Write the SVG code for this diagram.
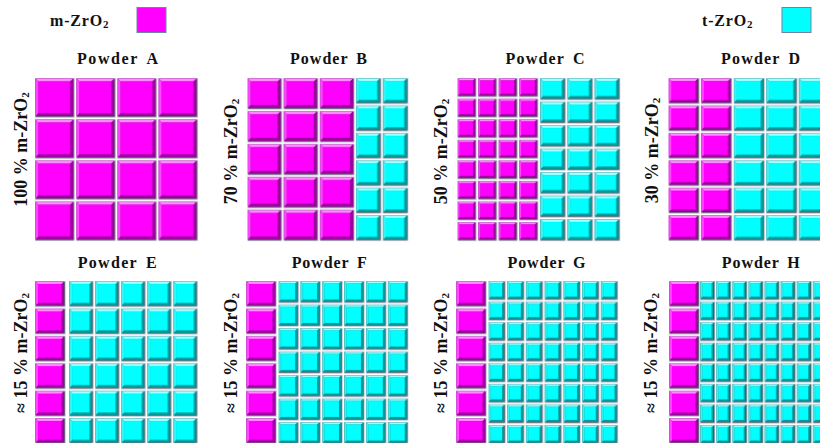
<svg xmlns="http://www.w3.org/2000/svg" width="820" height="443" viewBox="0 0 820 443">
<style>
.t{font-family:"Liberation Serif","Times New Roman",serif;font-weight:bold;fill:#111}
.title{font-size:16px;text-anchor:middle;word-spacing:3px}
.ax{font-size:18px;text-anchor:middle}
.leg{font-size:16px;letter-spacing:0.8px}
.mo{fill:#3a0a42;stroke:#a6abbd;stroke-width:1}
.md{fill:#a000a0}
.mt{fill:#ff8cff}
.ml{fill:#ff45ff}
.mm{fill:#ff00ff}
.co{fill:#12323f;stroke:#a6abbd;stroke-width:1}
.cd{fill:#009a9a}
.ct{fill:#a0ffff}
.cl{fill:#40f0f0}
.cm{fill:#00ffff}
.lm{fill:#ff00ff;stroke:#7080a8;stroke-width:1}
.lc{fill:#00ffff;stroke:#7080a8;stroke-width:1}
</style>
<defs>
<pattern id="pA" patternUnits="userSpaceOnUse" width="41.1" height="41.1"><g transform="translate(.5 .5)">
<rect class="mo" width="38.6" height="38.6"/><rect class="md" width="37.6" height="37.6"/>
<polygon class="mt" points="0,0 37.6,0 34.6,3 3,3"/><polygon class="ml" points="0,0 3,3 3,34.6 0,37.6"/>
<rect class="mm" x="3" y="3" width="31.6" height="31.6"/></g></pattern>
<pattern id="pBm" patternUnits="userSpaceOnUse" width="36.2" height="32.9"><g transform="translate(.5 .5)">
<rect class="mo" width="33.7" height="30.4"/><rect class="md" width="32.7" height="29.4"/>
<polygon class="mt" points="0,0 32.7,0 29.7,3 3,3"/><polygon class="ml" points="0,0 3,3 3,26.4 0,29.4"/>
<rect class="mm" x="3" y="3" width="26.7" height="23.4"/></g></pattern>
<pattern id="pBc" patternUnits="userSpaceOnUse" width="27" height="27.4"><g transform="translate(.5 .5)">
<rect class="co" width="24.5" height="24.9"/><rect class="cd" width="23.5" height="23.9"/>
<polygon class="ct" points="0,0 23.5,0 21,2.5 2.5,2.5"/><polygon class="cl" points="0,0 2.5,2.5 2.5,21.4 0,23.9"/>
<rect class="cm" x="2.5" y="2.5" width="18.5" height="18.9"/></g></pattern>
<pattern id="pCm" patternUnits="userSpaceOnUse" width="20.6" height="20.56"><g transform="translate(.5 .5)">
<rect class="mo" width="18.1" height="18.06"/><rect class="md" width="17.1" height="17.06"/>
<polygon class="mt" points="0,0 17.1,0 15.1,2 2,2"/><polygon class="ml" points="0,0 2,2 2,15.06 0,17.06"/>
<rect class="mm" x="2" y="2" width="13.1" height="13.06"/></g></pattern>
<pattern id="pCc" patternUnits="userSpaceOnUse" width="27.2" height="23.5"><g transform="translate(.5 .5)">
<rect class="co" width="24.7" height="21"/><rect class="cd" width="23.7" height="20"/>
<polygon class="ct" points="0,0 23.7,0 21.2,2.5 2.5,2.5"/><polygon class="cl" points="0,0 2.5,2.5 2.5,17.5 0,20"/>
<rect class="cm" x="2.5" y="2.5" width="18.7" height="15"/></g></pattern>
<pattern id="pDm" patternUnits="userSpaceOnUse" width="32.6" height="27.4"><g transform="translate(.5 .5)">
<rect class="mo" width="30.1" height="24.9"/><rect class="md" width="29.1" height="23.9"/>
<polygon class="mt" points="0,0 29.1,0 26.6,2.5 2.5,2.5"/><polygon class="ml" points="0,0 2.5,2.5 2.5,21.4 0,23.9"/>
<rect class="mm" x="2.5" y="2.5" width="24.1" height="18.9"/></g></pattern>
<pattern id="pDc" patternUnits="userSpaceOnUse" width="32.6" height="27.4"><g transform="translate(.5 .5)">
<rect class="co" width="30.1" height="24.9"/><rect class="cd" width="29.1" height="23.9"/>
<polygon class="ct" points="0,0 29.1,0 26.6,2.5 2.5,2.5"/><polygon class="cl" points="0,0 2.5,2.5 2.5,21.4 0,23.9"/>
<rect class="cm" x="2.5" y="2.5" width="24.1" height="18.9"/></g></pattern>
<pattern id="pM6" patternUnits="userSpaceOnUse" width="32" height="27.4"><g transform="translate(.5 .5)">
<rect class="mo" width="29.5" height="24.9"/><rect class="md" width="28.5" height="23.9"/>
<polygon class="mt" points="0,0 28.5,0 26,2.5 2.5,2.5"/><polygon class="ml" points="0,0 2.5,2.5 2.5,21.4 0,23.9"/>
<rect class="mm" x="2.5" y="2.5" width="23.5" height="18.9"/></g></pattern>
<pattern id="pEc" patternUnits="userSpaceOnUse" width="26.04" height="27.4"><g transform="translate(.5 .5)">
<rect class="co" width="23.54" height="24.9"/><rect class="cd" width="22.54" height="23.9"/>
<polygon class="ct" points="0,0 22.54,0 20.04,2.5 2.5,2.5"/><polygon class="cl" points="0,0 2.5,2.5 2.5,21.4 0,23.9"/>
<rect class="cm" x="2.5" y="2.5" width="17.54" height="18.9"/></g></pattern>
<pattern id="pFc" patternUnits="userSpaceOnUse" width="21.9" height="23.5"><g transform="translate(.5 .5)">
<rect class="co" width="19.4" height="21"/><rect class="cd" width="18.4" height="20"/>
<polygon class="ct" points="0,0 18.4,0 16.4,2 2,2"/><polygon class="cl" points="0,0 2,2 2,18 0,20"/>
<rect class="cm" x="2" y="2" width="14.4" height="16"/></g></pattern>
<pattern id="pGc" patternUnits="userSpaceOnUse" width="18.74" height="20.56"><g transform="translate(.5 .5)">
<rect class="co" width="16.24" height="18.06"/><rect class="cd" width="15.24" height="17.06"/>
<polygon class="ct" points="0,0 15.24,0 13.24,2 2,2"/><polygon class="cl" points="0,0 2,2 2,15.06 0,17.06"/>
<rect class="cm" x="2" y="2" width="11.24" height="13.06"/></g></pattern>
<pattern id="pHc" patternUnits="userSpaceOnUse" width="16.1" height="20.56"><g transform="translate(.5 .5)">
<rect class="co" width="14.1" height="18.06"/><rect class="cd" width="13.1" height="17.06"/>
<polygon class="ct" points="0,0 13.1,0 11.1,2 2,2"/><polygon class="cl" points="0,0 2,2 2,15.06 0,17.06"/>
<rect class="cm" x="2" y="2" width="9.1" height="13.06"/></g></pattern>
</defs>
<rect width="820" height="443" fill="#fff"/>
<g id="legend">
<text class="t leg" x="50" y="26">m-ZrO<tspan font-size="11" dy="2">2</tspan></text>
<rect class="lm" x="137" y="7.5" width="29" height="25"/>
<text class="t leg" x="702" y="26">t-ZrO<tspan font-size="11" dy="2">2</tspan></text>
<rect class="lc" x="782" y="7.5" width="29" height="25"/>
</g>
<g id="powder-a">
<text class="t title" x="117.5" y="64.3" textLength="81">Powder A</text>
<text class="t ax" transform="translate(26.7 149.5) rotate(-90)">100 % m-ZrO<tspan font-size="11" dy="2">2</tspan></text>
<rect transform="translate(35 78)" width="163.4" height="163.4" fill="url(#pA)"/>
</g>
<g id="powder-b">
<text class="t title" x="328.5" y="64.3" textLength="77">Powder B</text>
<text class="t ax" transform="translate(236.7 151.5) rotate(-90)">70 % m-ZrO<tspan font-size="11" dy="2">2</tspan></text>
<rect transform="translate(247.3 78)" width="107.6" height="163.5" fill="url(#pBm)"/>
<rect transform="translate(355.7 78)" width="53" height="163.4" fill="url(#pBc)"/>
</g>
<g id="powder-c">
<text class="t title" x="545" y="64.3" textLength="79">Powder C</text>
<text class="t ax" transform="translate(447 151.5) rotate(-90)">50 % m-ZrO<tspan font-size="11" dy="2">2</tspan></text>
<rect transform="translate(457.3 78)" width="81.4" height="163.5" fill="url(#pCm)"/>
<rect transform="translate(540 78)" width="80.6" height="163.5" fill="url(#pCc)"/>
</g>
<g id="powder-d">
<text class="t title" x="760.5" y="63.8" textLength="79">Powder D</text>
<text class="t ax" transform="translate(658 150.5) rotate(-90)">30 % m-ZrO<tspan font-size="11" dy="2">2</tspan></text>
<rect transform="translate(668.3 78)" width="64.2" height="163.4" fill="url(#pDm)"/>
<rect transform="translate(733.5 78)" width="97" height="163.4" fill="url(#pDc)"/>
</g>
<g id="powder-e">
<text class="t title" x="117.2" y="268.3" textLength="79">Powder E</text>
<text class="t ax" transform="translate(26.7 353) rotate(-90)">≈ 15 % m-ZrO<tspan font-size="11" dy="2">2</tspan></text>
<rect transform="translate(35 281)" width="31" height="163.4" fill="url(#pM6)"/>
<rect transform="translate(69 281)" width="129.2" height="163.4" fill="url(#pEc)"/>
</g>
<g id="powder-f">
<text class="t title" x="329.2" y="268.3" textLength="75">Powder F</text>
<text class="t ax" transform="translate(237 353) rotate(-90)">≈ 15 % m-ZrO<tspan font-size="11" dy="2">2</tspan></text>
<rect transform="translate(246 281)" width="31" height="163.4" fill="url(#pM6)"/>
<rect transform="translate(278.3 281)" width="130.4" height="163.5" fill="url(#pFc)"/>
</g>
<g id="powder-g">
<text class="t title" x="546.5" y="268.3" textLength="78">Powder G</text>
<text class="t ax" transform="translate(447 353) rotate(-90)">≈ 15 % m-ZrO<tspan font-size="11" dy="2">2</tspan></text>
<rect transform="translate(456 281)" width="31" height="163.4" fill="url(#pM6)"/>
<rect transform="translate(488.3 281)" width="130.2" height="163.5" fill="url(#pGc)"/>
</g>
<g id="powder-h">
<text class="t title" x="760.8" y="268.3" textLength="78">Powder H</text>
<text class="t ax" transform="translate(657 353) rotate(-90)">≈ 15 % m-ZrO<tspan font-size="11" dy="2">2</tspan></text>
<rect transform="translate(669 281)" width="31" height="163.4" fill="url(#pM6)"/>
<rect transform="translate(700 281)" width="130" height="163.5" fill="url(#pHc)"/>
</g>
</svg>
